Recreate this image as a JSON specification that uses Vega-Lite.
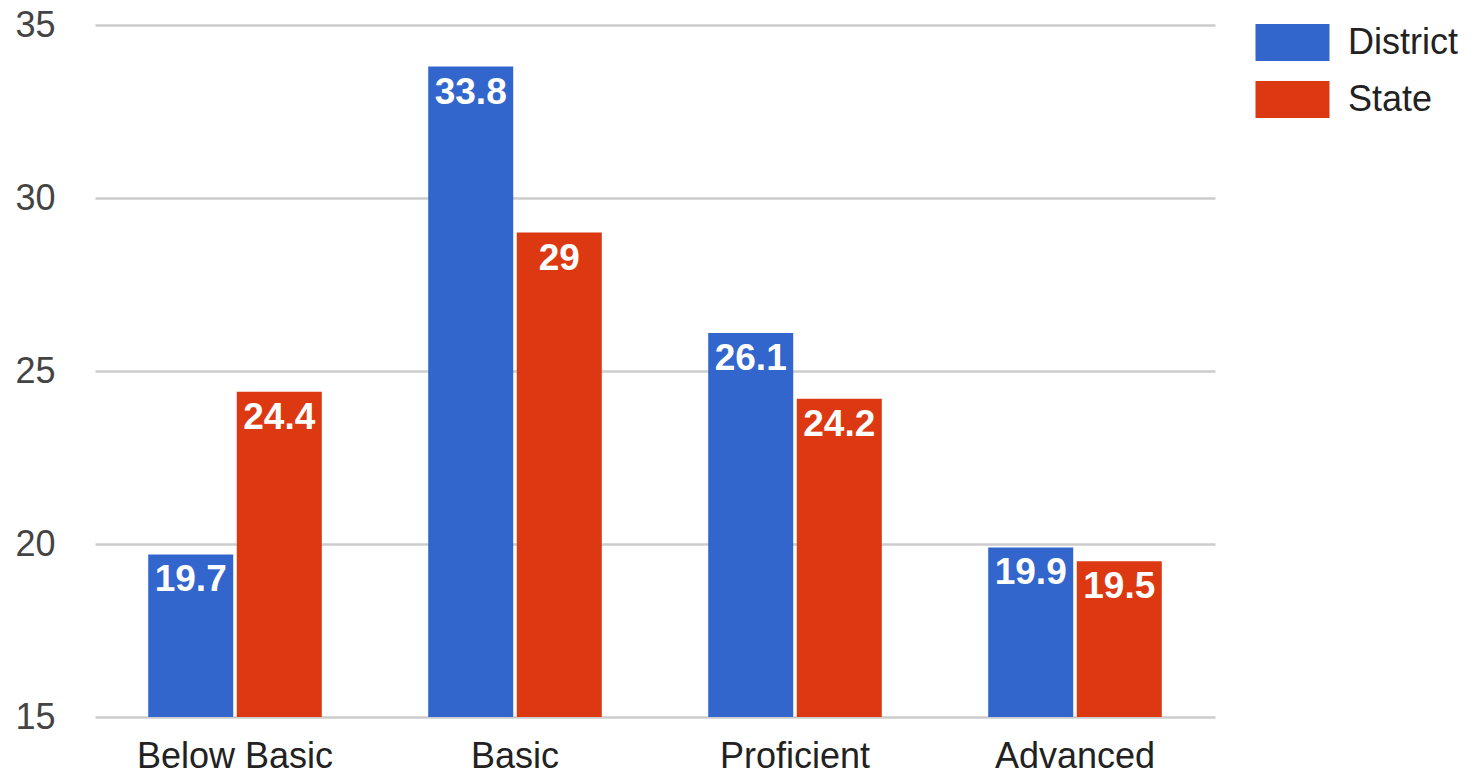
{
  "$schema": "https://vega.github.io/schema/vega-lite/v6.json",
  "autosize": "none",
  "width": 1120,
  "height": 692,
  "padding": {"left": 95, "top": 25, "right": 259, "bottom": 58},
  "background": "white",
  "config": {
    "font": "Liberation Sans",
    "view": {"stroke": null}
  },
  "data": {
    "values": [
      {"level": "Below Basic", "series": "District", "value": 19.7},
      {"level": "Below Basic", "series": "State", "value": 24.4},
      {"level": "Basic", "series": "District", "value": 33.8},
      {"level": "Basic", "series": "State", "value": 29},
      {"level": "Proficient", "series": "District", "value": 26.1},
      {"level": "Proficient", "series": "State", "value": 24.2},
      {"level": "Advanced", "series": "District", "value": 19.9},
      {"level": "Advanced", "series": "State", "value": 19.5}
    ]
  },
  "encoding": {
    "x": {
      "field": "level", "type": "nominal", "sort": null,
      "scale": {"paddingInner": 0.38, "paddingOuter": 0.19},
      "axis": {"title": null, "labelAngle": 0, "domain": false, "ticks": false, "labelFontSize": 36, "labelColor": "#222222", "labelPadding": 22, "labelLimit": 0, "labelFont": "Liberation Sans"}
    },
    "xOffset": {"field": "series", "type": "nominal", "scale": {"paddingInner": 0.04, "paddingOuter": 0}},
    "y": {
      "field": "value", "type": "quantitative",
      "scale": {"domain": [15, 35], "zero": false, "nice": false},
      "axis": {"title": null, "values": [15, 20, 25, 30, 35], "grid": true, "gridColor": "#cccccc", "gridWidth": 2.5, "domain": false, "ticks": false, "labelFontSize": 36, "labelColor": "#444444", "labelPadding": 40, "labelFont": "Liberation Sans"}
    }
  },
  "layer": [
    {
      "mark": {"type": "bar"},
      "encoding": {
        "y2": {"datum": 15},
        "color": {
          "field": "series", "type": "nominal",
          "scale": {"domain": ["District", "State"], "range": ["#3366cc", "#dc3912"]},
          "legend": {
            "title": null, "orient": "none", "legendX": 1179, "legendY": -1,
            "symbolType": "M-2,-1H2V1H-2Z", "symbolSize": 1369, "symbolStrokeWidth": 0, "symbolOpacity": 1,
            "labelFontSize": 36, "labelColor": "#222222", "labelFont": "Liberation Sans",
            "labelOffset": 37, "rowPadding": 20, "padding": 0
          }
        }
      }
    },
    {
      "mark": {"type": "text", "baseline": "top", "dy": 8, "fontSize": 37, "fontWeight": "bold", "color": "white", "font": "Liberation Sans"},
      "encoding": {
        "text": {"field": "value", "type": "quantitative"}
      }
    }
  ]
}
